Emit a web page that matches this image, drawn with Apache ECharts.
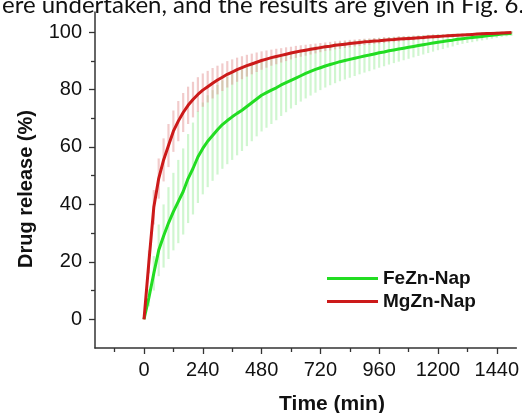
<!DOCTYPE html>
<html><head><meta charset="utf-8">
<script src="https://cdn.jsdelivr.net/npm/echarts@6/dist/echarts.min.js"></script>
<style>html,body{margin:0;padding:0;background:#fff;}#c{width:522px;height:413px;}</style>
</head><body><div id="c"></div>
<script>
const times = [0,20,40,60,80,100,120,140,160,180,200,220,240,260,280,300,320,340,360,380,400,420,440,460,480,500,520,540,560,580,600,620,640,660,680,700,720,740,760,780,800,820,840,860,880,900,920,940,960,980,1000,1020,1040,1060,1080,1100,1120,1140,1160,1180,1200,1220,1240,1260,1280,1300,1320,1340,1360,1380,1400,1420,1440,1460,1480,1500];
const mgznMean = [0,20,39,49,55.5,60.5,65.5,69,72,74.5,
 76.5,78.3,79.8,81,82.2,83.3,84.3,85.3,86.1,86.9,
 87.6,88.3,88.9,89.5,90.1,90.6,91.1,91.5,91.9,92.3,
 92.7,93.1,93.4,93.7,94.0,94.3,94.6,94.9,95.1,95.4,
 95.6,95.8,96.0,96.2,96.4,96.6,96.7,96.9,97.0,97.2,
 97.3,97.4,97.6,97.7,97.8,97.9,98.0,98.1,98.3,98.4,
 98.5,98.6,98.7,98.8,98.9,99.0,99.1,99.2,99.3,99.4,
 99.5,99.5,99.6,99.7,99.8,99.9];
const mgznSd = [0,4,6,7,7.5,7.5,7.2,7,6.8,6.5,
 6.2,6,5.8,5.5,5.3,5,4.8,4.6,4.4,4.2,
 4,3.8,3.6,3.4,3.2,3,2.8,2.7,2.5,2.4,
 2.2,2.1,2,1.9,1.8,1.7,1.6,1.5,1.5,1.4,
 1.4,1.3,1.3,1.2,1.2,1.1,1.1,1,1,1,
 0.9,0.9,0.9,0.8,0.8,0.8,0.7,0.7,0.7,0.7,
 0.6,0.6,0.6,0.6,0.5,0.5,0.5,0.5,0.4,0.4,
 0.4,0.4,0.3,0.3,0.3,0.3];
const feznMean = [0,7.5,16,24,29,33.5,37.5,41,44.5,49,
 52.5,56.5,59.5,62,64,66,67.8,69.2,70.5,71.7,
 72.8,74.1,75.4,76.7,78,78.9,79.8,80.6,81.6,82.4,
 83.2,84,84.8,85.6,86.3,87,87.6,88.2,88.7,89.2,
 89.7,90.1,90.5,90.9,91.3,91.7,92.0,92.4,92.8,93.1,
 93.5,93.8,94.1,94.4,94.7,95,95.3,95.6,95.9,96.2,
 96.5,96.7,97,97.2,97.5,97.7,97.9,98.1,98.3,98.5,
 98.7,98.9,99.1,99.3,99.4,99.5];
const feznSd = [0,3,6,9,11,12.5,13.5,14.5,15,15.5,
 16,16,16,16,15.8,15.6,15.4,15.2,15,14.6,
 14.2,13.8,13.4,13,12.6,12.2,11.8,11.3,10.8,10.3,
 9.8,9.4,9,8.7,8.4,8.1,7.8,7.5,7.2,7,
 6.8,6.6,6.4,6.2,6,5.8,5.6,5.4,5.2,5,
 4.8,4.6,4.4,4.2,4,3.8,3.6,3.4,3.2,3,
 2.8,2.6,2.4,2.2,2,1.8,1.7,1.6,1.5,1.4,
 1.3,1.2,1.1,1,0.9,0.8];
const xMajorTicks = [0,240,480,720,960,1200,1440];
const xMinorTicks = [-120,120,360,600,840,1080,1320];
const yMajorTicks = [0,20,40,60,80,100];
const yMinorTicks = [10,30,50,70,90];
const seriesNames = ['FeZn-Nap','MgZn-Nap'];

const FONT = '"Liberation Sans", Arial, sans-serif';
const chart = echarts.init(document.getElementById('c'), null, {renderer:'canvas'});

function errSeries(mean, sd, color) {
  return {
    type:'custom', xAxisIndex:0, yAxisIndex:0, silent:true, z:1,
    data: times.map((t,i)=>[t, mean[i], sd[i]]),
    renderItem: function(params, api){
      const x = api.value(0), y = api.value(1), e = api.value(2);
      const p1 = api.coord([x, y - e]), p2 = api.coord([x, y + e]);
      return {type:'line', shape:{x1:p1[0], y1:p1[1], x2:p2[0], y2:p2[1]},
        style:{stroke:color, lineWidth:2.2}};
    }
  };
}

const axisLineStyle = {color:'#333', width:1.5};
const numFmt = v => String(v);
chart.setOption({
  animation:false,
  grid:{left:95, right:0, top:12, bottom:65},
  xAxis:[{
    type:'value', min:-200, max:1520, position:'bottom',
    axisLine:{show:true, onZero:false, lineStyle:axisLineStyle},
    axisTick:{show:true, inside:false, length:6, customValues:xMajorTicks, lineStyle:{color:'#333', width:1.3}},
    axisLabel:{show:true, customValues:xMajorTicks, formatter:numFmt, margin:12, fontFamily:FONT, fontSize:20, color:'#111'},
    splitLine:{show:false}
  },{
    type:'value', min:-200, max:1520, position:'bottom',
    axisLine:{show:false, onZero:false},
    axisTick:{show:true, inside:false, length:4, customValues:xMinorTicks, lineStyle:{color:'#333', width:1.3}},
    axisLabel:{show:false}, splitLine:{show:false}
  }],
  yAxis:[{
    type:'value', min:-10, max:107, position:'left',
    axisLine:{show:true, onZero:false, lineStyle:axisLineStyle},
    axisTick:{show:true, inside:false, length:6, customValues:yMajorTicks, lineStyle:{color:'#333', width:1.3}},
    axisLabel:{show:true, customValues:yMajorTicks, formatter:numFmt, margin:13, fontFamily:FONT, fontSize:20, color:'#111'},
    splitLine:{show:false}
  },{
    type:'value', min:-10, max:107, position:'left',
    axisLine:{show:false, onZero:false},
    axisTick:{show:true, inside:false, length:4, customValues:yMinorTicks, lineStyle:{color:'#333', width:1.3}},
    axisLabel:{show:false}, splitLine:{show:false}
  }],
  legend:{
    orient:'vertical', left:322, top:264, itemWidth:51, itemHeight:3, itemGap:4,
    icon:'rect', data:seriesNames,
    textStyle:{fontFamily:FONT, fontSize:19, fontWeight:'bold', color:'#111', lineHeight:19}
  },
  series:[
    errSeries(feznMean, feznSd, 'rgba(150,235,150,0.45)'),
    errSeries(mgznMean, mgznSd, 'rgba(225,140,140,0.45)'),
    {name:seriesNames[0], type:'line', xAxisIndex:0, yAxisIndex:0, z:3, showSymbol:false, symbol:'none',
     data: times.map((t,i)=>[t, feznMean[i]]), lineStyle:{color:'#22dd22', width:3}, itemStyle:{color:'#22dd22'}},
    {name:seriesNames[1], type:'line', xAxisIndex:0, yAxisIndex:0, z:4, showSymbol:false, symbol:'none',
     data: times.map((t,i)=>[t, mgznMean[i]]), lineStyle:{color:'#cc1a1a', width:3}, itemStyle:{color:'#cc1a1a'}}
  ],
  graphic:[
    {type:'text', left:2, top:-7, style:{text:'ere undertaken, and the results are given in Fig. 6.', font:'24px Lato, "Open Sans", sans-serif', fill:'#111'}},
    {type:'text', x:26, y:189, rotation:Math.PI/2, style:{text:'Drug release (%)', font:'bold 20px "Liberation Sans", Arial, sans-serif', fill:'#111', align:'center', verticalAlign:'middle'}},
    {type:'text', x:332, y:404, style:{text:'Time (min)', font:'bold 21px "Liberation Sans", Arial, sans-serif', fill:'#111', align:'center', verticalAlign:'middle'}}
  ]
});
</script></body></html>
